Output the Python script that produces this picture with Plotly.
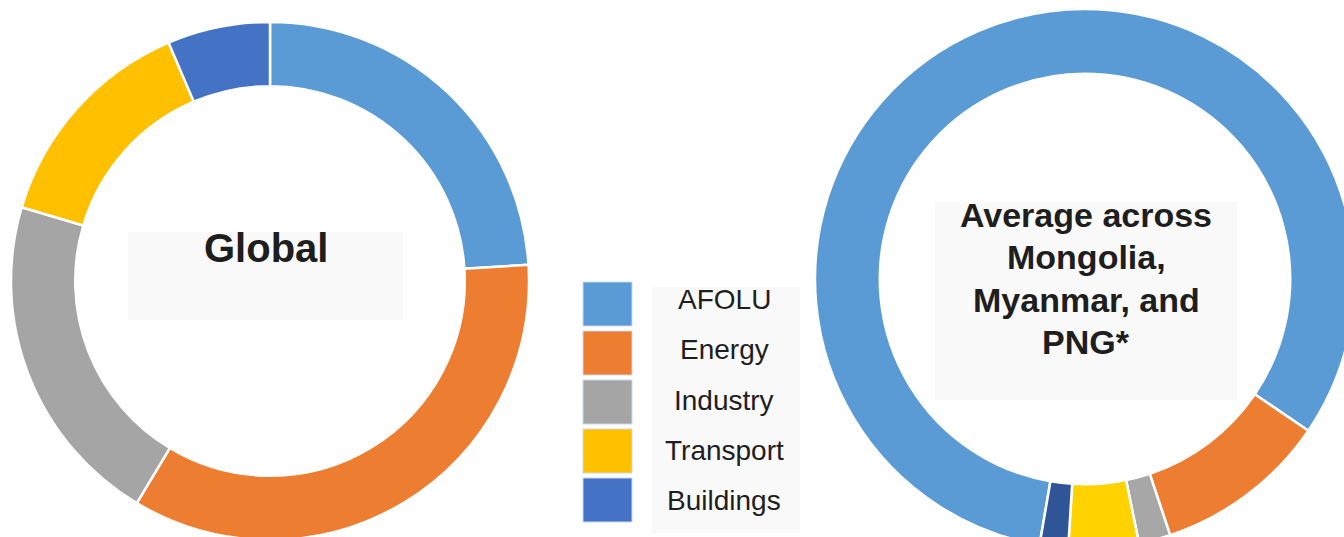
import plotly.graph_objects as go

# ---- data ----
categories = ["AFOLU", "Energy", "Industry", "Transport", "Buildings"]
global_share = [24.0, 34.6, 21.0, 14.0, 6.4]
regional_share = [81.8, 10.4, 1.9, 4.2, 1.7]
global_label = "Global"
regional_label_lines = ["Average across", "Mongolia,", "Myanmar, and", "PNG*"]

global_colors = ["#5B9BD5", "#ED7D31", "#A5A5A5", "#FFC000", "#4472C4"]
regional_colors = ["#5B9BD5", "#ED7D31", "#A7A7A7", "#FFD200", "#2F5597"]
legend_colors = ["#5B9BD5", "#ED7D31", "#A5A5A5", "#FFC000", "#4472C4"]

# ---- canvas (slightly larger than the window so the donuts can be cropped) ----
W, H = 1370, 562


def fx(px):
    return px / W


def fy(py):
    return 1 - py / H


def dom(cx, cy, r):
    return dict(x=[fx(cx - r), fx(cx + r)], y=[fy(cy + r), fy(cy - r)])


FONT = "Liberation Sans, Arial, Helvetica, sans-serif"

fig = go.Figure()

fig.add_trace(go.Pie(
    labels=categories, values=global_share, sort=False, direction="clockwise",
    rotation=0, hole=0.752, textinfo="none", hoverinfo="label+percent",
    marker=dict(colors=global_colors, line=dict(color="white", width=2.5)),
    domain=dom(270, 281, 259), showlegend=False,
))

fig.add_trace(go.Pie(
    labels=categories, values=regional_share, sort=False, direction="clockwise",
    rotation=189.7, hole=0.76, textinfo="none", hoverinfo="label+percent",
    marker=dict(colors=regional_colors, line=dict(color="white", width=2.5)),
    domain=dom(1085, 279, 270), showlegend=False,
))

shapes = []
annotations = []

# centre label boxes
shapes.append(dict(type="rect", xref="paper", yref="paper",
                   x0=fx(128), x1=fx(403), y0=fy(320), y1=fy(232),
                   fillcolor="#F9F9F9", line=dict(width=0), layer="above"))
shapes.append(dict(type="rect", xref="paper", yref="paper",
                   x0=fx(935), x1=fx(1237), y0=fy(400), y1=fy(202),
                   fillcolor="#F9F9F9", line=dict(width=0), layer="above"))

annotations.append(dict(text="<b>%s</b>" % global_label, x=fx(266), y=fy(248),
                        xref="paper", yref="paper", showarrow=False,
                        xanchor="center", yanchor="middle",
                        font=dict(family=FONT, size=40, color="#1E1E1E")))

for i, line in enumerate(regional_label_lines):
    annotations.append(dict(text="<b>%s</b>" % line, x=fx(1086), y=fy(215 + 42.3 * i),
                            xref="paper", yref="paper", showarrow=False,
                            xanchor="center", yanchor="middle",
                            font=dict(family=FONT, size=34, color="#1E1E1E")))

# custom legend
shapes.append(dict(type="rect", xref="paper", yref="paper",
                   x0=fx(652), x1=fx(800), y0=fy(533), y1=fy(287),
                   fillcolor="#F9F9F9", line=dict(width=0), layer="above"))
for i, (name, col) in enumerate(zip(categories, legend_colors)):
    top = 282 + 49 * i
    shapes.append(dict(type="rect", xref="paper", yref="paper",
                       x0=fx(583), x1=fx(632), y0=fy(top + 44), y1=fy(top),
                       fillcolor=col, line=dict(color="#C9D9EA", width=1), layer="above"))
    annotations.append(dict(text=name, x=fx(724), y=fy(299.5 + 50.3 * i),
                            xref="paper", yref="paper", showarrow=False,
                            xanchor="center", yanchor="middle",
                            font=dict(family=FONT, size=28, color="#1E1E1E")))

fig.update_layout(
    width=W, height=H, margin=dict(l=0, r=0, t=0, b=0, pad=0),
    paper_bgcolor="white", plot_bgcolor="white",
    shapes=shapes, annotations=annotations, showlegend=False,
)

fig.write_html(
    "out.html",
    config={"displayModeBar": False},
    post_script="document.documentElement.style.overflow='hidden';"
                "document.body.style.overflow='hidden';document.body.style.margin='0';",
)
